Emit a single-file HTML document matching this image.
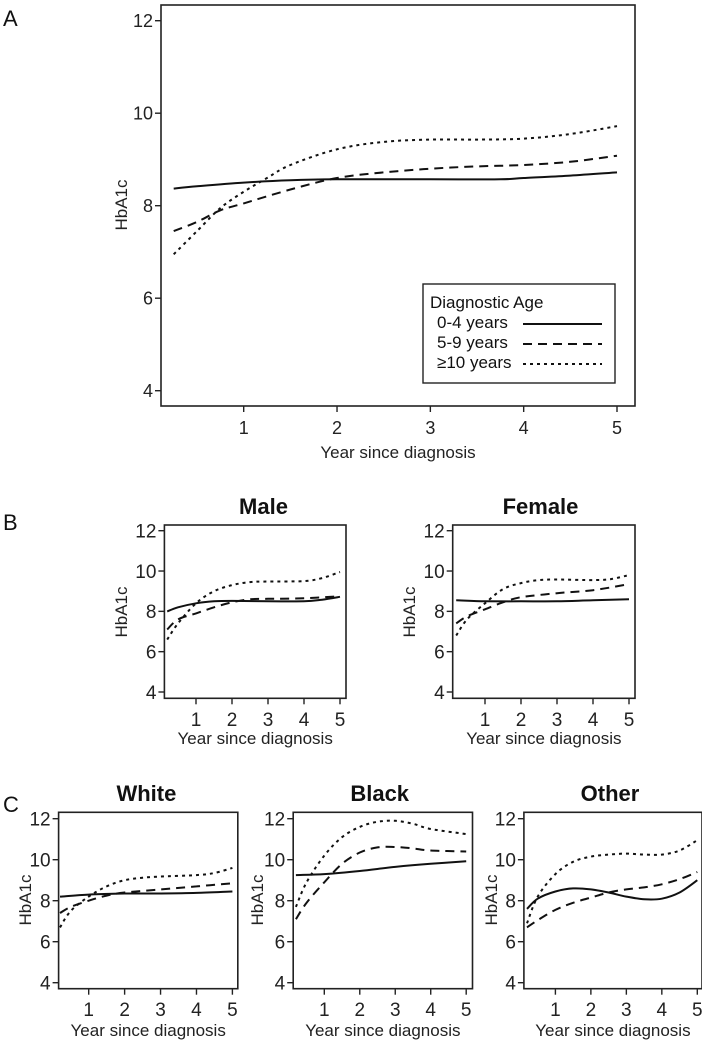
<!DOCTYPE html>
<html><head><meta charset="utf-8"><style>
html,body{margin:0;padding:0;background:#fff;}
svg{display:block;font-family:"Liberation Sans Narrow","Liberation Sans",sans-serif;}
</style></head><body>
<svg id="chart" width="702" height="1041" viewBox="0 0 702 1041" xmlns="http://www.w3.org/2000/svg"></svg>
<script>
const yTicks = [4, 6, 8, 10, 12];
const xTicks = [1, 2, 3, 4, 5];
const seriesNames = ["0-4 years", "5-9 years", "≥10 years"];
// panel A
const aX0 = [0.25,0.5,1,1.5,2,3,3.75,4,4.5,5];
const aSolid = [8.37,8.42,8.5,8.55,8.57,8.57,8.57,8.6,8.65,8.72];
const aX1 = [0.25,0.5,0.75,1,1.5,2,2.5,3,3.5,4,4.5,5];
const aDash = [7.45,7.65,7.9,8.05,8.35,8.6,8.72,8.8,8.85,8.88,8.95,9.08];
const aX2 = [0.25,0.5,0.75,1,1.25,1.5,2,2.5,3,3.5,4,4.5,5];
const aDot = [6.95,7.45,7.95,8.3,8.6,8.88,9.22,9.38,9.43,9.43,9.45,9.55,9.72];
// Male
const mX0 = [0.2,0.5,1,1.5,2,3,4,4.5,5];
const mSolid = [8.0,8.2,8.4,8.5,8.52,8.5,8.5,8.58,8.72];
const mX1 = [0.2,0.5,1,1.5,2,2.5,3,4,5];
const mDash = [7.1,7.6,7.9,8.2,8.45,8.6,8.62,8.65,8.75];
const mX2 = [0.2,0.5,1,1.5,2,2.5,3,4,4.5,5];
const mDot = [6.6,7.4,8.4,9.0,9.3,9.45,9.48,9.5,9.65,9.95];
// Female
const fX0 = [0.2,1,2,3,4,5];
const fSolid = [8.55,8.5,8.5,8.5,8.55,8.6];
const fX1 = [0.2,0.5,1,1.5,2,3,4,5];
const fDash = [7.4,7.75,8.1,8.45,8.7,8.9,9.05,9.35];
const fX2 = [0.2,0.5,1,1.5,2,2.5,3,4,4.5,5];
const fDot = [6.8,7.6,8.4,9.1,9.4,9.55,9.58,9.55,9.6,9.8];
// White
const wX0 = [0.2,1,2,3,4,5];
const wSolid = [8.2,8.3,8.35,8.35,8.38,8.45];
const wX1 = [0.2,0.5,1,1.5,2,3,4,5];
const wDash = [7.4,7.7,8.0,8.25,8.4,8.55,8.7,8.85];
const wX2 = [0.2,0.5,1,1.5,2,2.5,3,4,4.5,5];
const wDot = [6.7,7.5,8.2,8.7,9.0,9.12,9.18,9.25,9.35,9.6];
// Black
const bX0 = [0.2,1,2,3,4,5];
const bSolid = [9.25,9.3,9.45,9.65,9.8,9.92];
const bX1 = [0.2,0.5,1,1.5,2,2.5,3,3.5,4,5];
const bDash = [7.1,7.9,8.9,9.8,10.35,10.6,10.62,10.55,10.45,10.4];
const bX2 = [0.2,0.5,1,1.5,2,2.5,3,3.5,4,5];
const bDot = [7.7,8.9,10.2,11.1,11.6,11.85,11.9,11.75,11.5,11.25];
// Other
const oX0 = [0.2,0.5,1,1.5,2,2.5,3,3.5,4,4.5,5];
const oSolid = [7.6,8.1,8.45,8.6,8.55,8.4,8.2,8.07,8.1,8.4,9.0];
const oX1 = [0.2,0.5,1,1.5,2,2.5,3,3.5,4,4.5,5];
const oDash = [6.7,7.05,7.55,7.9,8.15,8.4,8.55,8.65,8.8,9.05,9.4];
const oX2 = [0.2,0.5,1,1.5,2,2.5,3,3.5,4,4.5,5];
const oDot = [6.9,8.2,9.3,9.9,10.15,10.25,10.3,10.25,10.25,10.45,10.95];

const NS = "http://www.w3.org/2000/svg";
const svg = document.getElementById('chart');
function mk(tag, attrs, parent, text){
  const e = document.createElementNS(NS, tag);
  for (const k in attrs) e.setAttribute(k, attrs[k]);
  if (text !== undefined) e.textContent = text;
  (parent||svg).appendChild(e);
  return e;
}
function smoothPath(pts){
  let d = "M" + pts[0][0].toFixed(1) + "," + pts[0][1].toFixed(1);
  for (let i=0;i<pts.length-1;i++){
    const p0=pts[Math.max(0,i-1)], p1=pts[i], p2=pts[i+1], p3=pts[Math.min(pts.length-1,i+2)];
    const c1x=p1[0]+(p2[0]-p0[0])/6, c1y=p1[1]+(p2[1]-p0[1])/6;
    const c2x=p2[0]-(p3[0]-p1[0])/6, c2y=p2[1]-(p3[1]-p1[1])/6;
    d += " C"+c1x.toFixed(1)+","+c1y.toFixed(1)+" "+c2x.toFixed(1)+","+c2y.toFixed(1)+" "+p2[0].toFixed(1)+","+p2[1].toFixed(1);
  }
  return d;
}
const dashes = ["none", "9,6", "3,4"];
function panel(cfg){
  const g = mk('g', {});
  
  
  const xs = v => cfg.x1px + (v-1)*(cfg.x5px-cfg.x1px)/4;
  const ys = v => cfg.y4px - (v-4)*(cfg.y4px-cfg.y12px)/8;
  const box = mk('rect', {x:cfg.left, y:cfg.top, width:cfg.right-cfg.left, height:cfg.bottom-cfg.top, fill:'none', stroke:'#222', 'stroke-width':1.6}, g);
  
  
  yTicks.forEach(t=>{
    const y = ys(t);
    mk('line', {x1:cfg.left-6, x2:cfg.left, y1:y, y2:y, stroke:'#222', 'stroke-width':1.4}, g);
    const tl = mk('text', {x:cfg.left-8, y:y+cfg.fs*0.36, 'text-anchor':'end', 'font-size':cfg.fs, fill:'#222'}, g, String(t));
    
    
  });
  xTicks.forEach(t=>{
    const x = xs(t);
    mk('line', {x1:x, x2:x, y1:cfg.bottom, y2:cfg.bottom+6, stroke:'#222', 'stroke-width':1.4}, g);
    const tl = mk('text', {x:x, y:cfg.tickY, 'text-anchor':'middle', 'font-size':cfg.fs, fill:'#222'}, g, String(t));
    
    
  });
  const xl = mk('text', {x:(cfg.left+cfg.right)/2, y:cfg.xlabY, 'text-anchor':'middle', 'font-size':cfg.lfs, fill:'#222'}, g, 'Year since diagnosis');
  
  
  const yl = mk('text', {x:0, y:0, 'text-anchor':'middle', 'font-size':cfg.lfs, fill:'#222', transform:'translate('+cfg.ylabX+','+cfg.ylabY+') rotate(-90)'}, g, 'HbA1c');
  
  
  if (cfg.title){
    const tt = mk('text', {x:cfg.titleX, y:cfg.titleY, 'text-anchor':'middle', 'font-size':22, 'font-weight':'bold', fill:'#111'}, g, cfg.title);
    
    
  }
  cfg.series.forEach((s,i)=>{
    const pts = s[0].map((x,j)=>[xs(x), ys(s[1][j])]);
    const p = mk('path', {d:smoothPath(pts), fill:'none', stroke:'#111', 'stroke-width':2, 'stroke-dasharray':dashes[i]}, g);
    
    
  });
}
function letter(t, x, y){
  const e = mk('text', {x:x, y:y, 'font-size':22, fill:'#111'}, svg, t);
  
  
}
letter('A', 3, 26); letter('B', 3, 530); letter('C', 3, 812);

panel({name:'panel-a', left:161, right:635, top:5, bottom:406, x1px:243.7, x5px:617, y12px:20.7, y4px:390.7, fs:18, lfs:17, tickY:434, xlabY:458, ylabX:127, ylabY:205,
  series:[[aX0,aSolid],[aX1,aDash],[aX2,aDot]]});
// legend
(function(){
  const g = mk('g', {});
  
  
  mk('rect', {x:423, y:284, width:192, height:99, fill:'#fff', stroke:'#222', 'stroke-width':1.4}, g);
  const t = mk('text', {x:430, y:308, 'font-size':17, fill:'#111'}, g, 'Diagnostic Age');
  
  
  [328, 348, 368].forEach((y,i)=>{
    const e = mk('text', {x:437, y:y, 'font-size':17, fill:'#111'}, g, seriesNames[i]);
    
    
    mk('line', {x1:523, x2:602, y1:y-4, y2:y-4, stroke:'#111', 'stroke-width':2, 'stroke-dasharray':dashes[i]}, g);
  });
})();

const bBase = {top:525, bottom:698.3, y12px:530.7, y4px:692, fs:19, lfs:17, tickY:726, xlabY:744, ylabY:612, titleY:514};
panel(Object.assign({}, bBase, {name:'panel-b-male', title:'Male', left:164.4, right:346, x1px:196, x5px:340, ylabX:127, titleX:263.5,
  series:[[mX0,mSolid],[mX1,mDash],[mX2,mDot]]}));
panel(Object.assign({}, bBase, {name:'panel-b-female', title:'Female', left:452.7, right:635, x1px:485, x5px:629, ylabX:415, titleX:540.5,
  series:[[fX0,fSolid],[fX1,fDash],[fX2,fDot]]}));

const cBase = {top:812.3, bottom:988.7, y12px:818.7, y4px:982.7, fs:19, lfs:17, tickY:1016, xlabY:1036, ylabY:900, titleY:801};
panel(Object.assign({}, cBase, {name:'panel-c-white', title:'White', left:58.6, right:237.8, x1px:88.7, x5px:232.4, ylabX:31, titleX:146.4,
  series:[[wX0,wSolid],[wX1,wDash],[wX2,wDot]]}));
panel(Object.assign({}, cBase, {name:'panel-c-black', title:'Black', left:293.2, right:472.5, x1px:324.3, x5px:466.2, ylabX:263, titleX:379.7,
  series:[[bX0,bSolid],[bX1,bDash],[bX2,bDot]]}));
panel(Object.assign({}, cBase, {name:'panel-c-other', title:'Other', left:523.9, right:702, x1px:555.4, x5px:697.3, ylabX:497, titleX:610,
  series:[[oX0,oSolid],[oX1,oDash],[oX2,oDot]]}));
</script>
</body></html>
